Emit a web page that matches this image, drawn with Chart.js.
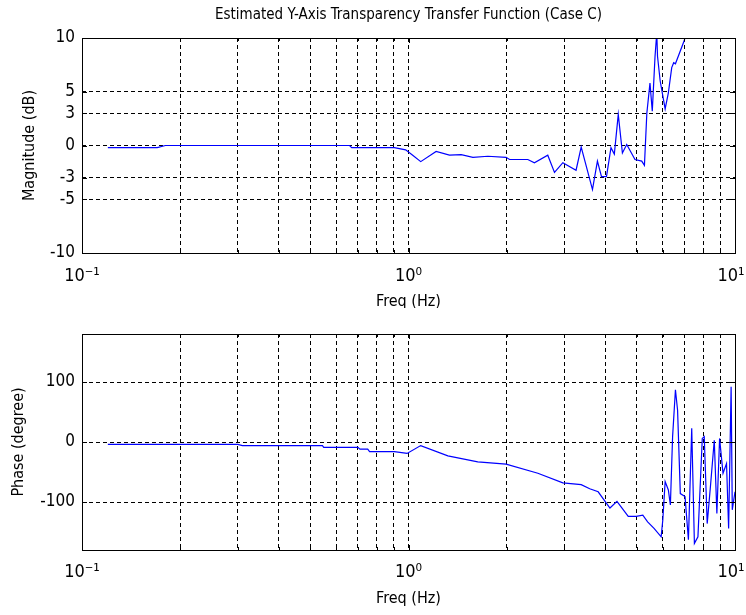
<!DOCTYPE html>
<html>
<head>
<meta charset="utf-8">
<script src="https://cdn.jsdelivr.net/npm/chart.js@4/dist/chart.umd.min.js"></script>
<style>
  html, body { margin: 0; padding: 0; background: #fff; }
  #wrap { position: relative; width: 746px; height: 615px; }
  .pane { position: absolute; left: 0; width: 746px; }
</style>
</head>
<body>
<div id="wrap">
  <div class="pane" style="top:0;height:308px"><canvas id="magChart"></canvas></div>
  <div class="pane" style="top:308px;height:307px"><canvas id="phaseChart"></canvas></div>
</div>
<script>
// Magnitude response (dB) vs frequency (Hz)
const magFreq = [0.12, 0.17, 0.18, 0.25, 0.35, 0.5, 0.66, 0.67, 0.82, 0.905, 0.98, 1.03, 1.09, 1.215, 1.335, 1.45, 1.575, 1.75, 1.99, 2.04, 2.32, 2.43, 2.67, 2.80, 2.97, 3.26, 3.38, 3.66, 3.79, 3.90, 4.04, 4.17, 4.27, 4.39, 4.52, 4.66, 4.94, 5.18, 5.28, 5.37, 5.49, 5.58, 5.69, 5.76, 5.79, 5.9, 6.11, 6.25, 6.40, 6.49, 6.57, 6.95, 7.03, 7.3];
const magDb = [-0.2, -0.2, 0, 0, 0, 0, 0, -0.2, -0.2, -0.2, -0.4, -0.9, -1.5, -0.55, -0.9, -0.85, -1.1, -1.0, -1.1, -1.3, -1.3, -1.6, -0.9, -2.5, -1.6, -2.3, -0.15, -4.1, -1.45, -2.9, -2.9, -0.2, -0.8, 2.9, -0.7, 0.1, -1.3, -1.45, -1.85, 3.0, 5.8, 3.2, 8.3, 10.5, 8.3, 6.0, 3.4, 4.9, 7.25, 7.7, 7.6, 9.55, 10, 11];

// Phase response (degree) vs frequency (Hz)
const phFreq = [0.12, 0.30, 0.31, 0.545, 0.55, 0.70, 0.71, 0.75, 0.76, 0.82, 0.905, 0.99, 1.09, 1.32, 1.63, 1.99, 2.49, 2.97, 3.38, 3.59, 3.81, 4.14, 4.35, 4.71, 4.98, 5.22, 5.40, 5.65, 5.94, 6.01, 6.11, 6.25, 6.34, 6.44, 6.57, 6.67, 6.80, 7.03, 7.20, 7.37, 7.51, 7.70, 7.94, 8.05, 8.22, 8.41, 8.64, 8.80, 8.97, 9.19, 9.42, 9.56, 9.73, 9.81, 10.0];
const phDeg = [-4, -4, -6, -6, -9, -9, -12, -12, -16, -16, -16, -19, -6, -23, -33, -37, -52, -68, -71, -78, -83, -110, -99, -124, -124, -122, -133, -144, -158, -130, -66, -80, -105, 9, 87, 53, -86, -91, -163, 23, -169, -158, 6, 9, -136, -74, 3, -119, 6, -52, -36, -144, 92, -113, -83];

// Tick positions
const freqTicks = [0.1, 0.2, 0.3, 0.4, 0.5, 0.6, 0.7, 0.8, 0.9, 1, 2, 3, 4, 5, 6, 7, 8, 9, 10];
// trailing en space keeps the last label inside the window
const decadeLabels = { 0.1: '10\u207B\u00B9', 1: '10\u2070', 10: '10\u00B9\u2002' };
const magTicks = [-10, -5, -3, 0, 3, 5, 10];
const phaseTicks = [-100, 0, 100];

const FONT = "'Liberation Sans Narrow', 'DejaVu Sans Condensed', 'Liberation Sans', Arial, sans-serif";
Chart.defaults.font.family = FONT;
Chart.defaults.color = '#000';

// box round the axes plus matlab style inner tick marks
const framePlugin = {
    id: 'frame',
    afterDraw(chart) {
        const { ctx, chartArea: a, scales } = chart;
        ctx.save();
        ctx.strokeStyle = '#000';
        ctx.lineWidth = 1;
        ctx.setLineDash([]);
        ctx.beginPath();
        scales.x.ticks.forEach(t => {
            const px = Math.round(scales.x.getPixelForValue(t.value)) + 0.5;
            const len = decadeLabels[t.value] ? 5 : 3;
            ctx.moveTo(px, a.bottom); ctx.lineTo(px, a.bottom - len);
            ctx.moveTo(px, a.top); ctx.lineTo(px, a.top + len);
        });
        scales.y.ticks.forEach(t => {
            const py = Math.round(scales.y.getPixelForValue(t.value)) + 0.5;
            ctx.moveTo(a.left, py); ctx.lineTo(a.left + 5, py);
            ctx.moveTo(a.right, py); ctx.lineTo(a.right - 5, py);
        });
        ctx.stroke();
        ctx.strokeRect(Math.round(a.left) + 0.5, Math.round(a.top) + 0.5,
            Math.round(a.right - a.left), Math.round(a.bottom - a.top));
        ctx.restore();
    }
};

function makeChart(id, freq, vals, opts) {
    const ctx = document.getElementById(id).getContext('2d');
    return new Chart(ctx, {
        type: 'line',
        data: {
            datasets: [{
                data: freq.map((f, i) => ({ x: f, y: vals[i] })),
                borderColor: '#0000ff',
                borderWidth: 1.2,
                pointRadius: 0,
                tension: 0,
                fill: false
            }]
        },
        options: {
            responsive: true,
            maintainAspectRatio: false,
            animation: false,
            layout: { padding: { top: opts.padTop, right: 11, left: 0, bottom: 0 } },
            scales: {
                x: {
                    type: 'logarithmic',
                    min: 0.1,
                    max: 10,
                    afterBuildTicks: s => { s.ticks = freqTicks.map(v => ({ value: v })); },
                    afterFit: s => {
                        s.height = opts.xHeight;
                        s.paddingLeft = 0;
                        s.paddingRight = 0;
                    },
                    ticks: {
                        autoSkip: false,
                        maxRotation: 0,
                        padding: opts.xTickPad,
                        font: { size: 18 },
                        callback: v => decadeLabels[v] || ''
                    },
                    grid: {
                        color: '#000',
                        drawTicks: false
                    },
                    // in v4 border.dash is what dashes the grid lines
                    border: { display: false, dash: [4, 3] },
                    title: {
                        display: true,
                        text: 'Freq (Hz)',
                        font: { size: 16 },
                        padding: { top: 0, bottom: opts.xTitlePad }
                    }
                },
                y: {
                    min: opts.yMin,
                    max: opts.yMax,
                    afterBuildTicks: s => { s.ticks = opts.yTicks.map(v => ({ value: v })); },
                    afterFit: s => { s.width = 82; },
                    ticks: {
                        padding: 7,
                        font: { size: 17 }
                    },
                    grid: {
                        color: '#000',
                        drawTicks: false
                    },
                    border: { display: false, dash: [4, 3] },
                    title: {
                        display: true,
                        text: opts.yTitle,
                        font: { size: 16 },
                        padding: { top: opts.yTitlePad, bottom: 0 }
                    }
                }
            },
            plugins: {
                legend: { display: false },
                tooltip: { enabled: false },
                title: opts.title ? {
                    display: true,
                    text: opts.title,
                    fullSize: false,
                    color: '#000',
                    font: { size: 15, weight: 'normal' },
                    padding: { top: 6, bottom: 14 }
                } : { display: false }
            }
        },
        plugins: [framePlugin]
    });
}

const magChart = makeChart('magChart', magFreq, magDb, {
    title: 'Estimated Y-Axis Transparency Transfer Function (Case C)',
    padTop: 0,
    xHeight: 55,
    xTickPad: 13,
    xTitlePad: -3,
    yMin: -10, yMax: 10,
    yTicks: magTicks,
    yTitle: 'Magnitude (dB)',
    yTitlePad: 20
});

const phaseChart = makeChart('phaseChart', phFreq, phDeg, {
    title: null,
    padTop: 26,
    xHeight: 65,
    xTickPad: 12,
    xTitlePad: 7,
    yMin: -180, yMax: 180,
    yTicks: phaseTicks,
    yTitle: 'Phase (degree)',
    yTitlePad: 9
});
</script>
</body>
</html>
